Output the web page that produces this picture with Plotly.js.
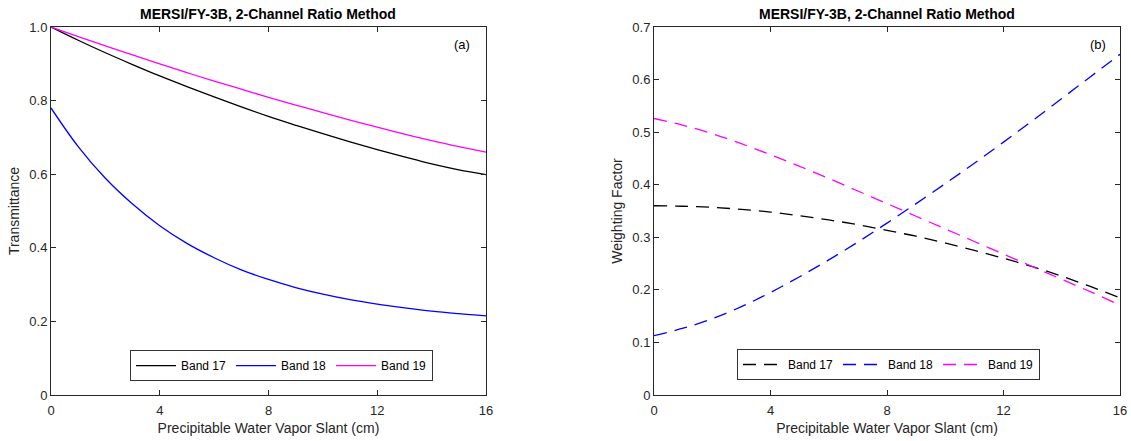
<!DOCTYPE html>
<html>
<head>
<meta charset="utf-8">
<script src="https://cdn.plot.ly/plotly-3.0.1.min.js"></script>
<style>html,body{margin:0;padding:0;background:#fff;}#chart{width:1131px;height:441px;}</style>
</head>
<body>
<div id="chart"></div>
<script>
const pwvSlant = [0,1,2,3,4,5,6,7,8,9,10,11,12,13,14,15,16];
const bandNames = ['Band 17','Band 18','Band 19'];
const transBand17 = [1.000,0.964,0.930,0.898,0.867,0.838,0.810,0.783,0.757,0.733,0.710,0.688,0.667,0.647,0.628,0.612,0.599];
const transBand18 = [0.780,0.675,0.589,0.519,0.460,0.412,0.373,0.340,0.314,0.292,0.274,0.259,0.247,0.237,0.228,0.221,0.215];
const transBand19 = [1.000,0.974,0.949,0.924,0.900,0.876,0.853,0.831,0.809,0.788,0.767,0.747,0.728,0.709,0.691,0.675,0.660];
const weightBand17 = [0.360,0.359,0.357,0.353,0.348,0.341,0.333,0.324,0.313,0.302,0.289,0.275,0.260,0.244,0.226,0.206,0.185];
const weightBand18 = [0.113,0.127,0.145,0.168,0.195,0.225,0.257,0.291,0.327,0.364,0.402,0.441,0.481,0.522,0.564,0.606,0.648];
const weightBand19 = [0.526,0.513,0.497,0.478,0.457,0.435,0.412,0.388,0.364,0.340,0.316,0.292,0.268,0.244,0.220,0.196,0.171];
const xTicks = [0,4,8,12,16];
const yTicksA = [0,0.2,0.4,0.6,0.8,1.0];
const yTickTextA = ['0','0.2','0.4','0.6','0.8','1.0'];
const yTicksB = [0,0.1,0.2,0.3,0.4,0.5,0.6,0.7];
const yTickTextB = ['0','0.1','0.2','0.3','0.4','0.5','0.6','0.7'];
const titleText = 'MERSI/FY-3B, 2-Channel Ratio Method';
const xTitle = 'Precipitable Water Vapor Slant (cm)';

const colors = ['#000000','#0000ff','#ff00ff'];
const dash = '13px,8px';
const FONT = 'Liberation Sans, Arial, sans-serif';

const traces = [];
[transBand17, transBand18, transBand19].forEach((ys,i)=>{
  traces.push({x:pwvSlant, y:ys, name:bandNames[i], type:'scatter', mode:'lines',
    line:{color:colors[i], width:1.3, shape:'spline'}, xaxis:'x', yaxis:'y', legend:'legend'});
});
[weightBand17, weightBand18, weightBand19].forEach((ys,i)=>{
  traces.push({x:pwvSlant, y:ys, name:bandNames[i], type:'scatter', mode:'lines',
    line:{color:colors[i], width:1.3, dash:dash, shape:'spline'}, xaxis:'x2', yaxis:'y2', legend:'legend2'});
});

const axisCommon = {
  showgrid:false, zeroline:false, showline:true, linecolor:'#262626', linewidth:1,
  mirror:'ticks', ticks:'inside', ticklen:5, tickcolor:'#262626', tickwidth:1,
  tickfont:{family:FONT, size:13, color:'#262626'}
};
const xTitleObj = {text:xTitle, font:{family:FONT, size:14, color:'#262626'}, standoff:6};

const legendCommon = {
  orientation:'h', bgcolor:'#ffffff', bordercolor:'#333333', borderwidth:1,
  font:{family:FONT, size:12, color:'#000'},
  xanchor:'left', yanchor:'top', itemwidth:40, tracegroupgap:0
};

const layout = {
  width:1131, height:441,
  margin:{l:51, r:11, t:27, b:46},
  paper_bgcolor:'#fff', plot_bgcolor:'#fff',
  showlegend:true,
  xaxis:Object.assign({}, axisCommon, {domain:[0,0.4069], range:[0,16], tickvals:xTicks, ticktext:xTicks.map(String), title:xTitleObj, anchor:'y', ticklabelstandoff:3}),
  yaxis:Object.assign({}, axisCommon, {range:[0,1], tickvals:yTicksA, ticktext:yTickTextA, anchor:'x',
    title:{text:'Transmittance', font:{family:FONT, size:14, color:'#262626'}, standoff:6}}),
  xaxis2:Object.assign({}, axisCommon, {domain:[0.5641,1], range:[0,16], tickvals:xTicks, ticktext:xTicks.map(String), title:xTitleObj, anchor:'y2', ticklabelstandoff:3}),
  yaxis2:Object.assign({}, axisCommon, {range:[0,0.7], tickvals:yTicksB, ticktext:yTickTextB, anchor:'x2',
    title:{text:'Weighting Factor', font:{family:FONT, size:14, color:'#262626'}, standoff:6}}),
  legend:Object.assign({}, legendCommon, {x:0.0739, y:0.122}),
  legend2:Object.assign({}, legendCommon, {x:0.6417, y:0.125}),
  annotations:[
    {text:'<b>'+titleText+'</b>', xref:'x domain', yref:'paper', x:0.5, y:1, yanchor:'bottom', yshift:3, showarrow:false,
      font:{family:FONT, size:14, color:'#000'}},
    {text:'<b>'+titleText+'</b>', xref:'x2 domain', yref:'paper', x:0.5, y:1, yanchor:'bottom', yshift:3, showarrow:false,
      font:{family:FONT, size:14, color:'#000'}},
    {text:'(a)', xref:'x domain', yref:'y domain', x:0.968, y:0.977, showarrow:false,
      font:{family:FONT, size:13, color:'#000'}},
    {text:'(b)', xref:'x2 domain', yref:'y2 domain', x:0.974, y:0.977, showarrow:false,
      font:{family:FONT, size:13, color:'#000'}}
  ]
};

Plotly.newPlot('chart', traces, layout, {displayModeBar:false, staticPlot:true});
</script>
</body>
</html>
